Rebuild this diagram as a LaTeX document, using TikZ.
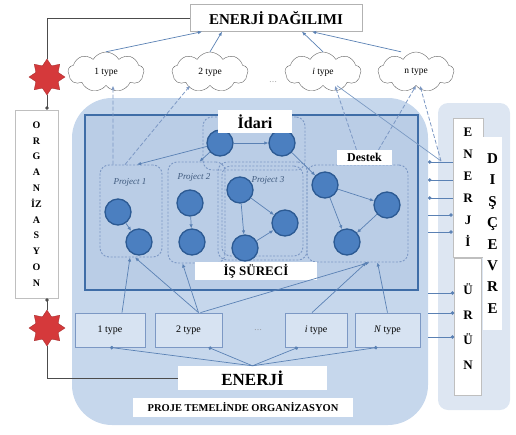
\documentclass[tikz,border=0pt]{standalone}
\usepackage{fontspec}
\setmainfont{Liberation Serif}
\usetikzlibrary{arrows.meta, shapes.geometric, shapes.symbols}
\definecolor{panelblue}{HTML}{C6D7EC}
\definecolor{innerblue}{HTML}{BACDE6}
\definecolor{frameblue}{HTML}{3F6DA7}
\definecolor{ballblue}{HTML}{4B7FC0}
\definecolor{ballrim}{HTML}{2C5A93}
\definecolor{linkblue}{HTML}{5A81B4}
\definecolor{dashblue}{HTML}{7C98C4}
\definecolor{sideblue}{HTML}{DDE6F2}
\definecolor{starred}{HTML}{D5393B}
\tikzset{
  ball/.style={circle, fill=ballblue, draw=ballrim, line width=1.3pt, minimum size=26pt, inner sep=0pt},
  puff/.style={cloud, cloud puffs=9, cloud puff arc=120, aspect=2, draw=gray!80!black, fill=white, minimum width=76pt, minimum height=40pt, inner sep=0pt, font=\fontsize{9.5}{10}\selectfont},
  typebox/.style={draw=dashblue, line width=0.8pt, fill=panelblue!70!white, minimum height=34pt, inner sep=0pt, font=\fontsize{10}{11}\selectfont},
  projbox/.style={draw=dashblue, line width=0.9pt, dash pattern=on 2pt off 1.6pt, rounded corners=9pt},
  tagbox/.style={fill=white, inner sep=0pt},
  projtag/.style={font=\itshape\fontsize{9}{10}\selectfont, text=linkblue!70!black},
  sidebox/.style={draw=gray!50, fill=white, inner sep=0pt, align=center},
  flow/.style={draw=linkblue, line width=0.7pt, -{Latex[length=4pt,width=3.5pt]}},
  dashflow/.style={draw=dashblue, line width=0.8pt, dash pattern=on 4pt off 2pt, -{Latex[length=4pt,width=3.5pt]}},
  dotflow/.style={draw=linkblue, line width=0.7pt, -{Circle[length=3.5pt]}},
  redstar/.style={star, star points=8, star point ratio=1.5, fill=starred, draw=starred!80!black, minimum size=36pt, inner sep=0pt},
}

\begin{document}
\begin{tikzpicture}[x=1pt, y=-1pt]
    \useasboundingbox (0,0) rectangle (516,434);
    % panels
    \fill[panelblue, rounded corners=40pt] (72,98) rectangle (428,425);
    \fill[sideblue, rounded corners=10pt] (438,103) rectangle (510,410);
    \draw[frameblue, fill=innerblue, line width=1.3pt] (85,115) rectangle (418,290);
    \coordinate (pr) at (428,0);

    % top
    \node (title) at (276,18) [draw=gray!60, fill=white, minimum width=172pt, minimum height=27pt, font=\bfseries\fontsize{15}{16}\selectfont] {ENERJİ DAĞILIMI};
    \node (c1) at (106,72) [puff] {1 type};
    \node (c2) at (210,72) [puff] {2 type};
    \node (cdots) at (273,82) [text=gray, font=\fontsize{8}{9}\selectfont] {\dots};
    \node (ci) at (323,72) [puff] {\textit{i} type};
    \node (cn) at (416,72) [puff] {n type};
    \draw[flow] (c1.north) -- ([xshift=-74pt]title.south);
    \draw[flow] (c2.north) -- ([xshift=-54pt]title.south);
    \draw[flow] (ci.north) -- ([xshift=26pt]title.south);
    \draw[flow] ([xshift=-15pt]cn.north) -- ([xshift=36pt]title.south);

    % groups
    \node (p1) at (131,211) [projbox, minimum width=62pt, minimum height=92pt] {};
    \node (p2) at (196.5,212.5) [projbox, minimum width=57pt, minimum height=101pt] {};
    \node (p3) at (262.5,211) [projbox, minimum width=89pt, minimum height=98pt] {};
    \node (p3in) at (262.5,211) [projbox, minimum width=81pt, minimum height=90pt] {};
    \node (adm) at (254,143.5) [projbox, minimum width=102pt, minimum height=53pt] {};
    \node (dbox) at (357.5,213.5) [projbox, minimum width=101pt, minimum height=97pt] {};
    \node at (130,182) [projtag] {Project 1};
    \node at (194,177) [projtag] {Project 2};
    \node at (268,180) [projtag] {Project 3};

    % nodes
    \node (i1) at (220,143) [ball] {};
    \node (i2) at (282,143) [ball] {};
    \node (a1) at (118,212) [ball] {};
    \node (a2) at (139,242) [ball] {};
    \node (b1) at (190,203) [ball] {};
    \node (b2) at (192,242) [ball] {};
    \node (e1) at (240,190) [ball] {};
    \node (e2) at (285,223) [ball] {};
    \node (e3) at (245,248) [ball] {};
    \node (d1) at (325,185) [ball] {};
    \node (d2) at (387,205) [ball] {};
    \node (d3) at (347,242) [ball] {};
    \draw[flow] (i1) -- (i2);
    \draw[flow] (i1) -- ([xshift=6pt]p1.north);
    \draw[flow] (i1) -- ([xshift=3pt]p2.north);
    \draw[flow] (i2) -- (d1);
    \draw[flow] (a1) -- (a2);
    \draw[flow] (b1) -- (b2);
    \draw[flow] (e1) -- (e2);
    \draw[flow] (e1) -- (e3);
    \draw[flow] (e3) -- (e2);
    \draw[flow] (d1) -- (d2);
    \draw[flow] (d1) -- (d3);
    \draw[flow] (d2) -- (d3);

    % labels
    \node (admtag) at (255,121.5) [tagbox, minimum width=74pt, minimum height=23pt, font=\bfseries\fontsize{16}{17}\selectfont] {İdari};
    \node (destag) at (364.5,157.5) [tagbox, minimum width=55pt, minimum height=15pt, font=\bfseries\fontsize{12}{13}\selectfont] {Destek};
    \node (proc) at (256,271) [tagbox, minimum width=122pt, minimum height=18pt, font=\bfseries\fontsize{13}{14}\selectfont] {İŞ SÜRECİ};

    % to the clouds
    \coordinate (jn) at (441,161);
    \draw[dashflow] ([xshift=-18pt]p1.north) -- ([xshift=7pt]c1.south);
    \draw[dashflow] ([xshift=-6pt]p1.north) -- ([xshift=-20pt]c2.south);
    \draw[dashflow] ([xshift=-8pt]destag.north) -- ([xshift=12pt]ci.south);
    \draw[dashflow] ([xshift=14pt]destag.north) -- (cn.south);
    \draw[dashflow] (jn) -- ([xshift=4pt]cn.south);
    \draw[linkblue!80, line width=0.7pt] ([xshift=14pt]ci.south) -- (jn);

    % bottom
    \node (t1) at (110,330) [typebox, minimum width=70pt] {1 type};
    \node (t2) at (188.5,330) [typebox, minimum width=67pt] {2 type};
    \node (tdots) at (258,330) [text=gray, font=\fontsize{8}{9}\selectfont] {\dots};
    \node (ti) at (316,330) [typebox, minimum width=62pt] {\textit{i} type};
    \node (tn) at (387.5,330) [typebox, minimum width=65pt] {\textit{N} type};
    \draw[flow] ([xshift=12pt]t1.north) -- ([xshift=-1pt]p1.south);
    \draw[flow] ([xshift=10pt]t2.north) -- ([xshift=4pt]p1.south);
    \draw[flow] ([xshift=10pt]t2.north) -- ([xshift=-14pt]p2.south);
    \draw[flow] ([xshift=12pt]t2.north) -- ([xshift=12pt]dbox.south);
    \draw[flow] ([xshift=-4pt]ti.north) -- ([xshift=9pt]dbox.south);
    \draw[flow] (tn.north) -- ([xshift=20pt]dbox.south);

    \node (en) at (252.5,378) [tagbox, minimum width=149pt, minimum height=24pt, font=\bfseries\fontsize{17}{18}\selectfont] {ENERJİ};
    \node (base) at (243,407) [tagbox, minimum width=220pt, minimum height=19pt, font=\bfseries\fontsize{10.5}{11}\selectfont] {PROJE TEMELİNDE ORGANİZASYON};
    \draw[dotflow] (en.north) -- (t1.south);
    \draw[dotflow] (en.north) -- ([xshift=20pt]t2.south);
    \draw[dotflow] (en.north) -- ([xshift=-18pt]ti.south);
    \draw[dotflow] (en.north) -- ([xshift=-10pt]tn.south);

    % right side
    \node (ebox) at (468,187.5) [sidebox, minimum width=30pt, minimum height=139pt, font=\bfseries\fontsize{13}{22}\selectfont] {E\\N\\E\\R\\J\\İ};
    \node (ubox) at (468,326.5) [sidebox, minimum width=27pt, minimum height=137pt, font=\bfseries\fontsize{13}{25}\selectfont] {Ü\\R\\Ü\\N};
    \node (env) at (492.5,233.5) [sidebox, draw=none, minimum width=19pt, minimum height=193pt, font=\bfseries\fontsize{15}{21.4}\selectfont] {D\\I\\Ş\\Ç\\E\\V\\R\\E};
    \foreach \y in {162,180,198}
        \draw[dotflow] (ebox.west |- 0,\y) -- (pr |- 0,\y);
    \foreach \y in {215,232}
        \draw[dotflow] (pr |- 0,\y) -- (ebox.west |- 0,\y);
    \foreach \y in {293,313,337}
        \draw[dotflow] (pr |- 0,\y) -- (ubox.west |- 0,\y);

    % left side
    \node (org) at (36.5,204) [sidebox, minimum width=43pt, minimum height=188pt, font=\bfseries\fontsize{10}{15.8}\selectfont] {O\\R\\G\\A\\N\\İZ\\A\\S\\Y\\O\\N};
    \node (s1) at (47,77) [redstar] {};
    \node (s2) at (47,328) [redstar] {};
    \draw[black!70, line width=0.8pt] (title.west) -| (s1.north);
    \draw[black!70, line width=0.8pt, -{Circle[length=3.5pt]}] (s1.south) -- (s1.south |- org.north);
    \draw[black!70, line width=0.8pt, -{Circle[length=3.5pt]}] (s2.north) -- (s2.north |- org.south);
    \draw[black!70, line width=0.8pt] (s2.south) |- (en.west);
\end{tikzpicture}
\end{document}
